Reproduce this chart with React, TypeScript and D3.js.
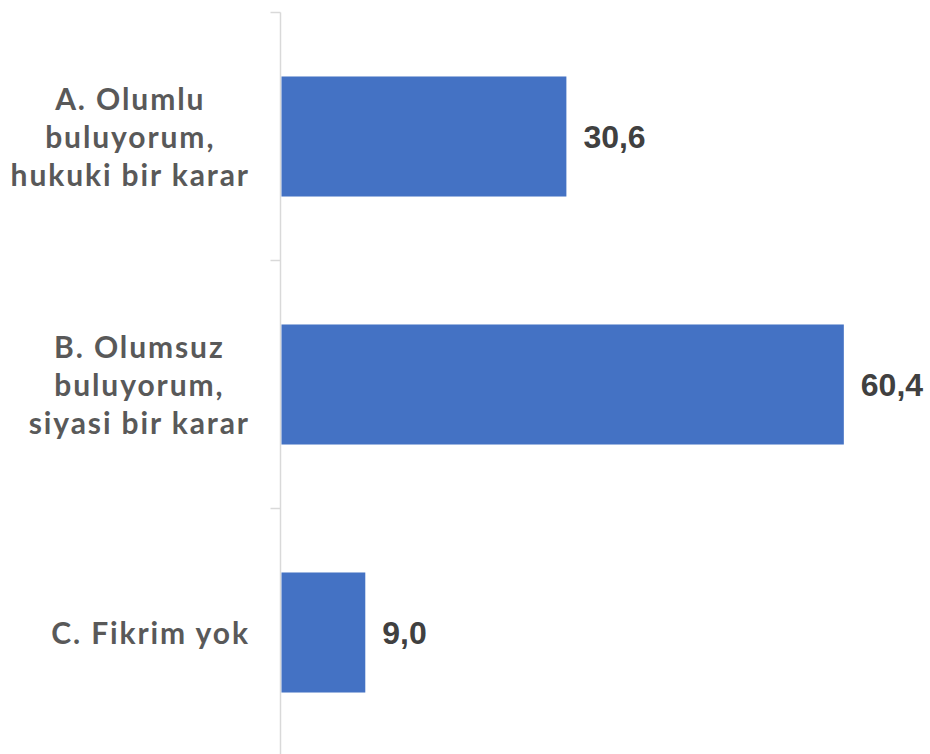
import React, { useEffect, useRef } from "react";
import * as d3 from "d3";

const categories = ["A", "B", "C"];
const labelLines = [
  ["A. Olumlu", "buluyorum,", "hukuki bir karar"],
  ["B. Olumsuz", "buluyorum,", "siyasi bir karar"],
  ["C. Fikrim yok"],
];
const values = [30.6, 60.4, 9.0];
const valueLabels = ["30,6", "60,4", "9,0"];

const W = 930;
const H = 754;

export default function App() {
  const ref = useRef<SVGSVGElement>(null);

  useEffect(() => {
    const svg = d3.select(ref.current);
    svg.selectAll("*").remove();

    const axisX = 280.5;
    const y = d3.scaleBand<string>().domain(categories).range([12.5, 756.5]).padding(0);
    const x = d3.scaleLinear().domain([0, 70]).range([281.5, 281.5 + 70 * 9.31]);
    const barH = y.bandwidth() * 0.484;

    svg.append("line")
      .attr("x1", axisX).attr("x2", axisX)
      .attr("y1", 12.5).attr("y2", 760)
      .attr("stroke", "#d9d9d9").attr("stroke-width", 1.5);
    const edges = categories.map((c) => y(c)!).concat([y(categories[categories.length - 1])! + y.bandwidth()]);
    svg.selectAll("line.tick").data(edges).enter().append("line")
      .attr("class", "tick")
      .attr("x1", axisX - 10).attr("x2", axisX)
      .attr("y1", (d) => d).attr("y2", (d) => d)
      .attr("stroke", "#d9d9d9").attr("stroke-width", 1.5);

    svg.selectAll("rect.bar").data(values).enter().append("rect")
      .attr("class", "bar")
      .attr("x", x(0))
      .attr("y", (_, i) => y(categories[i])! + y.bandwidth() / 2 - barH / 2)
      .attr("width", (d) => x(d) - x(0))
      .attr("height", barH)
      .attr("fill", "#4472C4");

    svg.selectAll("text.val").data(values).enter().append("text")
      .attr("class", "val")
      .attr("x", (d) => x(d) + 17)
      .attr("y", (_, i) => y(categories[i])! + y.bandwidth() / 2 + 11.5)
      .attr("font-family", "'Liberation Sans', Arial, sans-serif")
      .attr("font-weight", "bold")
      .attr("font-size", 32)
      .attr("fill", "#404040")
      .text((_, i) => valueLabels[i]);

    const rightEdge = 248;
    const lh = 38;
    labelLines.forEach((lines, i) => {
      const cy = y(categories[i])! + y.bandwidth() / 2;
      const g = svg.append("g");
      const texts = lines.map((ln, j) =>
        g.append("text")
          .attr("y", cy + (j - (lines.length - 1) / 2) * lh + 11)
          .attr("text-anchor", "middle")
          .attr("font-family", "'Lato', 'Open Sans', sans-serif")
          .attr("font-weight", "bold")
          .attr("font-size", 30)
          .attr("letter-spacing", 1.9)
          .attr("fill", "#595959")
          .text(ln)
      );
      const widths = texts.map((t) => (t.node() as SVGTextElement).getComputedTextLength() - 1.9);
      const maxW = Math.max(...widths);
      texts.forEach((t) => t.attr("x", rightEdge - maxW / 2 + 0.95));
    });
  }, []);

  return (
    <svg
      ref={ref}
      width={W}
      height={H}
      style={{ position: "absolute", left: 0, top: 0, background: "#fff" }}
    />
  );
}
